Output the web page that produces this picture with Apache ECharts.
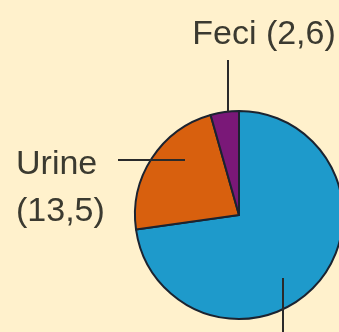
<!DOCTYPE html>
<html>
<head>
<meta charset="utf-8">
<script src="https://cdn.jsdelivr.net/npm/echarts@6/dist/echarts.min.js"></script>
<style>
  html, body { margin: 0; padding: 0; background: #fff1cc; }
  #chart { width: 339px; height: 332px; }
</style>
</head>
<body>
<div id="chart"></div>
<script>
// Water loss shares drawn as a pie
const names = ['Altro', 'Urine', 'Feci'];
const values = [43, 13.5, 2.6];
const labelTexts = [' ', 'Urine\n(13,5)', 'Feci (2,6)'];
const colors = ['#1e9acb', '#d8600e', '#7a1878'];

// Label anchor and leader-line geometry for each slice
const labelPlacement = [
  { x: 283, y: 345, align: 'center', verticalAlign: 'top', line: [[283, 278], [283, 332]] },
  { x: 16, y: 141, align: 'left', verticalAlign: 'top', line: [[185, 160], [118, 160]] },
  { x: 264, y: 11, align: 'center', verticalAlign: 'top', line: [[228, 112], [228, 60]] }
];

const pieCenter = [239, 215];
const pieRadius = [0, 104];

const chart = echarts.init(document.getElementById('chart'));
chart.setOption({
  backgroundColor: '#fff1cc',
  animation: false,
  series: [
    {
      // filled slices
      type: 'pie',
      z: 2,
      center: pieCenter,
      radius: pieRadius,
      startAngle: 90,
      clockwise: true,
      silent: true,
      data: names.map((n, i) => ({
        name: n,
        value: values[i],
        itemStyle: { color: colors[i] }
      })),
      itemStyle: { borderColor: '#1b2330', borderWidth: 2 },
      label: { show: false },
      labelLine: { show: false },
      emphasis: { disabled: true }
    },
    {
      // same slices, transparent, carrying labels and leader lines on top
      type: 'pie',
      z: 5,
      center: pieCenter,
      radius: pieRadius,
      startAngle: 90,
      clockwise: true,
      silent: true,
      data: names.map((n, i) => ({
        name: n,
        value: values[i],
        label: { formatter: labelTexts[i] }
      })),
      itemStyle: { color: 'rgba(0,0,0,0)', borderWidth: 0 },
      label: {
        show: true,
        fontFamily: 'Liberation Sans, Arial, sans-serif',
        fontSize: 34,
        lineHeight: 47,
        color: '#3b3a30',
        overflow: 'none',
        width: 200
      },
      labelLine: {
        show: true,
        lineStyle: { color: '#2a2a2a', width: 2 }
      },
      labelLayout: function (params) {
        const p = labelPlacement[params.dataIndex];
        return {
          x: p.x,
          y: p.y,
          align: p.align,
          verticalAlign: p.verticalAlign,
          labelLinePoints: p.line
        };
      },
      emphasis: { disabled: true }
    }
  ]
});
</script>
</body>
</html>
